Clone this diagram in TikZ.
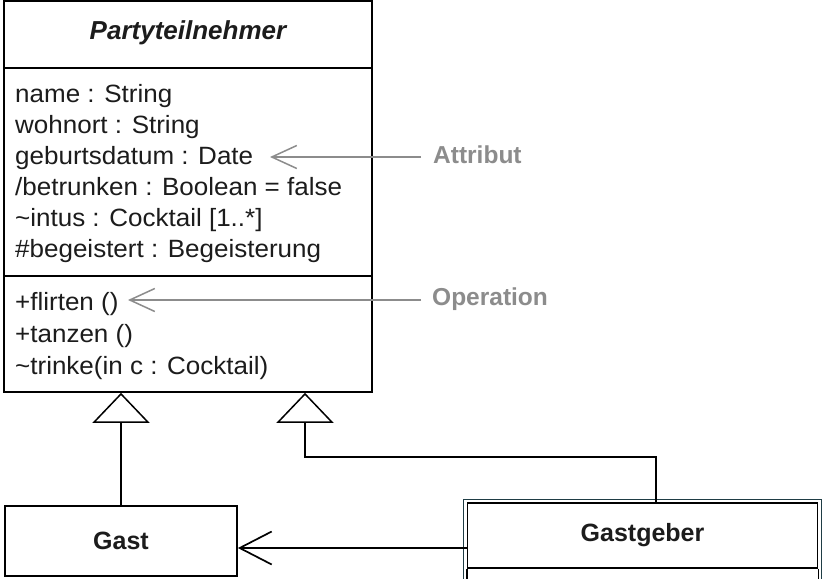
\documentclass[tikz,border=0pt]{standalone}
\usepackage{fontspec}
\setmainfont{Liberation Sans}
\newfontfamily\memberfont{Liberation Sans}[FakeStretch=1.04]
\usetikzlibrary{arrows.meta}
\definecolor{ink}{HTML}{1C1C1C}
\definecolor{notegray}{HTML}{8C8C8C}
\definecolor{frameteal}{HTML}{1F3D45}
\tikzset{
  boxline/.style={draw=black, line width=1.7pt},
  member/.style={anchor=base west, inner sep=0pt, text=ink, font=\memberfont\fontsize{25}{29}\selectfont},
  title/.style={inner sep=0pt, text=ink, font=\fontsize{25}{30}\selectfont\bfseries},
  notelbl/.style={anchor=base west, inner sep=0pt, text=notegray, font=\fontsize{24.5}{28}\selectfont\bfseries},
  note/.style={draw=notegray, line width=1.5pt, -{Straight Barb[length=25pt,width=23pt,line width=1.5pt]}},
  gen/.style={draw=black, line width=1.7pt, -{Triangle[open,length=30pt,width=57pt,fill=white,line width=1.5pt]}},
  assoc/.style={draw=black, line width=1.7pt, -{Straight Barb[length=32pt,width=33pt,line width=1.7pt]}}
}
\begin{document}
\begin{tikzpicture}[x=1pt,y=-1pt]
\useasboundingbox (0,0) rectangle (829,578);
\clip (0,0) rectangle (829,578);
\fill[white] (0,0) rectangle (829,578);

% main class
\node[boxline, rectangle, minimum width=368pt, minimum height=391pt, inner sep=0pt] (pt) at (188,196.5) {};
\draw[boxline] (4,68) -- (372,68);
\draw[boxline] (4,276) -- (372,276);
\node[title, anchor=base, font=\fontsize{26}{30}\selectfont\bfseries\itshape] (ptname) at (188,40) {Partyteilnehmer};

\node[member] (a1) at (15,102) {name : String};
\node[member] (a2) at (15,133) {wohnort : String};
\node[member] (a3) at (15,164) {geburtsdatum : Date};
\node[member] (a4) at (15,195) {/betrunken : Boolean = false};
\node[member] (a5) at (15,226) {\textasciitilde intus : Cocktail [1..*]};
\node[member] (a6) at (15,257) {\#begeistert : Begeisterung};

\node[member] (o1) at (15,310) {+flirten ()};
\node[member] (o2) at (15,342) {+tanzen ()};
\node[member] (o3) at (15,374) {\textasciitilde trinke(in c : Cocktail)};

% annotations
\node[notelbl] (attr) at (433,163) {Attribut};
\node[notelbl] (oper) at (432,305) {Operation};
\coordinate (s1) at (421,157);
\coordinate (t1) at (270,157);
\coordinate (s2) at (421,300);
\coordinate (t2) at (128,300);
\draw[note] (s1) -- (t1);
\draw[note] (s2) -- (t2);

% Gast
\node[boxline, rectangle, minimum width=232pt, minimum height=70pt, inner sep=0pt, title] (gast) at (121,541) {Gast};

% Gastgeber
\draw[frameteal, line width=1.1pt] (463.5,499.5) rectangle (821.5,600);
\node[boxline, rectangle, minimum width=350pt, minimum height=65pt, inner sep=0pt, title] (gg) at (642.5,535.5) {Gastgeber};
\draw[boxline] (gg.south west) -- ++(0,40);
\draw[boxline] (gg.south east) -- ++(0,40);

% generalizations
\draw[gen] (gast.north) -- (gast.north |- pt.south);
\coordinate (k1) at (656,457);
\coordinate (k2) at (305,457);
\draw[gen] (gg.north -| k1) -- (k1) -- (k2) -- (k2 |- pt.south);

% association
\coordinate (r1) at (467,548);
\draw[assoc] (gg.west |- r1) -- (gast.east |- r1);
\end{tikzpicture}
\end{document}
